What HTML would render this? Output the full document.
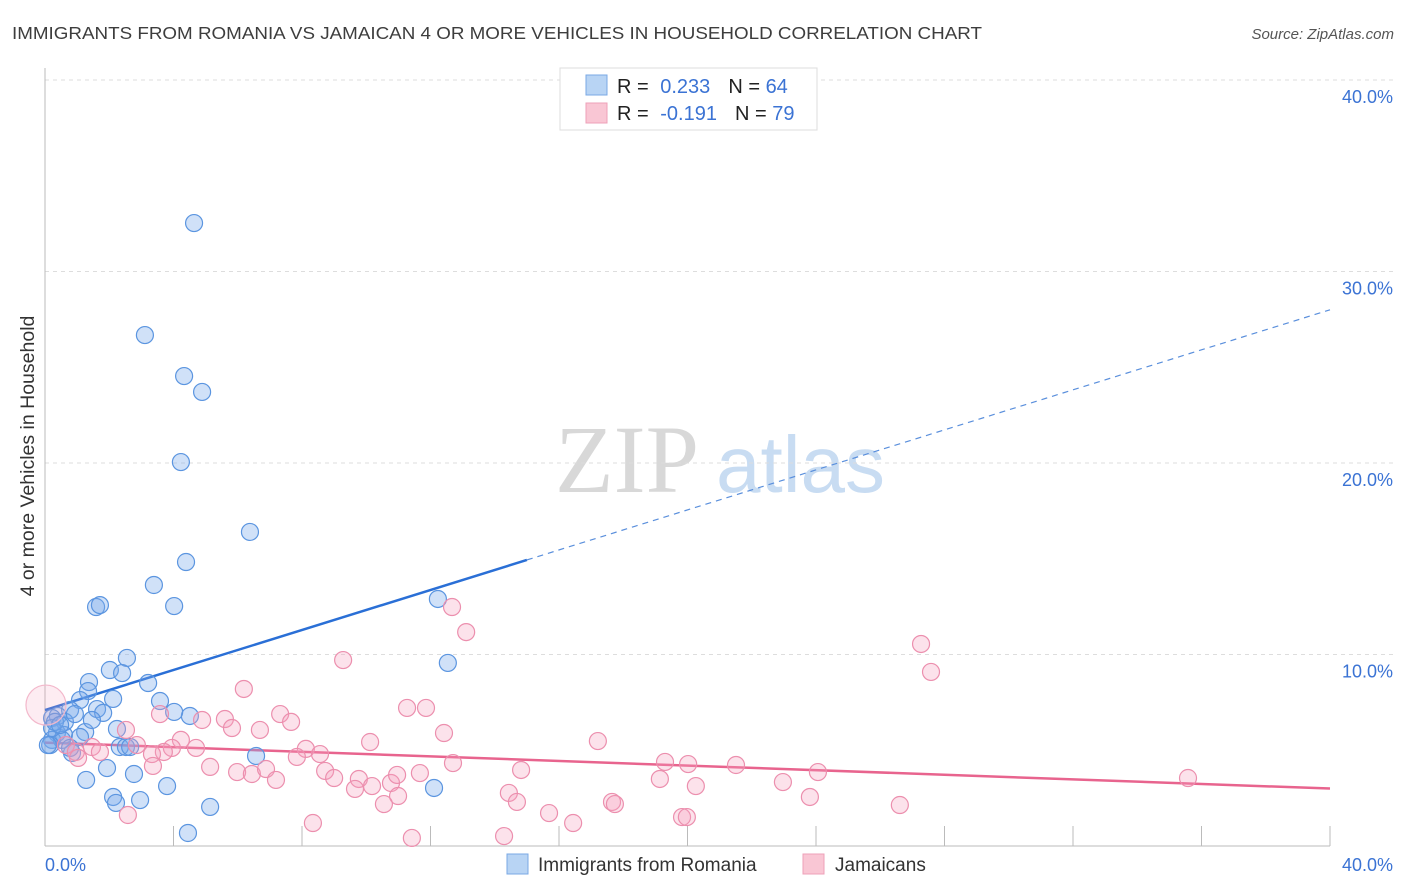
<!DOCTYPE html>
<html><head><meta charset="utf-8">
<style>
body{margin:0;background:#fff;font-family:"Liberation Sans",sans-serif;}
#wrap{position:relative;width:1406px;height:892px;overflow:hidden;}
</style></head>
<body><div id="wrap">
<svg id="chart" width="1406" height="892" xmlns="http://www.w3.org/2000/svg">
<text x="12" y="39" font-size="17.5" fill="#3d3d3d" textLength="970" lengthAdjust="spacingAndGlyphs">IMMIGRANTS FROM ROMANIA VS JAMAICAN 4 OR MORE VEHICLES IN HOUSEHOLD CORRELATION CHART</text>
<text x="1394" y="39" font-size="15" fill="#555" font-style="italic" text-anchor="end">Source: ZipAtlas.com</text>
<text transform="translate(34,456) rotate(-90)" font-size="19.5" fill="#333" text-anchor="middle">4 or more Vehicles in Household</text>
<g>
<text x="555" y="492" font-size="96" font-family="Liberation Serif,serif" fill="#d8d8d8">ZIP</text>
<text x="716" y="492" font-size="80" fill="#c8dcf2">atlas</text>
</g>
<g id="grid"></g><g id="axes"></g><g id="trend"></g><g id="pts"></g>
<g>
<rect x="560" y="68" width="257" height="62" fill="#fff" stroke="#ddd"/>
<rect x="586" y="75" width="21" height="20" fill="#b8d4f4" stroke="#7aa8e4"/>
<rect x="586" y="103" width="21" height="20" fill="#f9c6d4" stroke="#eea0b8"/>
<text x="617" y="93" font-size="20" fill="#222">R = <tspan fill="#3b73d4" dx="6">0.233</tspan><tspan dx="18" fill="#222">N = </tspan><tspan fill="#3b73d4">64</tspan></text>
<text x="617" y="120" font-size="20" fill="#222">R = <tspan fill="#3b73d4" dx="6">-0.191</tspan><tspan dx="18" fill="#222">N = </tspan><tspan fill="#3b73d4">79</tspan></text>
</g>
<g>
<rect x="507" y="854" width="21" height="20" fill="#b8d4f4" stroke="#7aa8e4"/>
<text x="538" y="871" font-size="19" fill="#333">Immigrants from Romania</text>
<rect x="803" y="854" width="21" height="20" fill="#f9c6d4" stroke="#eea0b8"/>
<text x="835" y="871" font-size="19" fill="#333">Jamaicans</text>
</g>
</svg>
</div>
<script>
const yTicks=[10,20,30,40];
const yTickLabels=["10.0%","20.0%","30.0%","40.0%"];
const xTickLabels=["0.0%","40.0%"];
const blueX=[4.64,3.11,4.33,4.89,4.23,6.38,4.39,3.39,1.59,1.71,4.02,12.23,12.54,2.55,2.02,2.40,3.21,1.37,1.34,2.12,3.58,1.09,1.62,1.81,4.51,4.02,0.78,0.40,0.22,0.62,0.93,0.37,1.25,2.24,0.22,0.59,1.09,0.53,2.33,2.52,2.65,6.57,0.84,0.16,1.93,2.77,1.28,3.80,12.11,2.12,2.21,2.96,5.14,4.45,0.22,0.31,0.47,1.46,0.09,0.78];
const blueY=[32.53,26.68,24.54,23.71,20.05,16.40,14.83,13.63,12.48,12.58,12.53,12.90,9.56,9.82,9.19,9.03,8.51,8.56,8.09,7.68,7.57,7.62,7.15,6.95,6.79,7.00,7.10,6.79,6.68,6.48,6.89,5.90,5.95,6.11,5.54,5.80,5.69,5.54,5.17,5.17,5.17,4.70,4.86,5.27,4.07,3.76,3.45,3.13,3.03,2.56,2.25,2.40,2.04,0.68,6.16,6.48,6.32,6.58,5.27,5.12];
const pinkX=[0.03,6.19,9.28,12.67,13.11,27.27,27.58,11.27,11.86,7.32,7.66,3.58,4.89,5.60,5.82,6.69,2.52,12.42,17.21,10.12,8.12,8.56,7.84,4.70,4.23,3.95,3.70,3.33,1.46,1.71,0.65,0.96,2.86,1.03,5.14,3.36,5.98,6.44,8.72,6.88,7.19,9.00,9.77,10.77,11.67,12.70,14.82,19.30,20.02,21.51,24.06,19.14,20.26,22.97,23.81,14.44,14.69,15.69,16.44,17.65,17.74,19.83,19.98,26.61,35.58,2.58,8.34,11.42,14.29,10.99,10.55,9.65,10.18,10.96];
const pinkY=[7.36,8.20,9.71,12.48,11.17,10.55,9.09,7.21,7.21,6.89,6.48,6.89,6.58,6.63,6.16,6.06,6.06,5.90,5.48,5.43,5.07,4.80,4.65,5.12,5.54,5.12,4.91,4.80,5.17,4.91,5.27,4.91,5.27,4.60,4.13,4.18,3.86,3.76,3.92,4.02,3.45,3.55,3.50,3.29,3.81,4.33,3.97,4.39,4.28,4.23,3.86,3.50,3.13,3.34,2.56,2.77,2.30,1.72,1.20,2.30,2.19,1.51,1.51,2.14,3.55,1.62,1.20,0.42,0.52,2.61,2.19,2.98,3.13,3.71];
const blueTrend=[7.1,28.0];
const blueSolidEnd=15.0;
const pinkTrend=[5.4,3.0];

const NS="http://www.w3.org/2000/svg";
const X=v=>45+v*32.125;
const Y=v=>846-v*19.15;
function mk(tag,attrs,parent){const e=document.createElementNS(NS,tag);for(const k in attrs)e.setAttribute(k,attrs[k]);parent.appendChild(e);return e;}
const grid=document.getElementById('grid'),axes=document.getElementById('axes'),trend=document.getElementById('trend'),pts=document.getElementById('pts');
yTicks.forEach((t,i)=>{
  const l=mk('line',{x1:45,x2:1394,y1:Y(t),y2:Y(t),stroke:'#ddd','stroke-dasharray':'4,4'},grid);
  
  
  const tx=mk('text',{x:1393,y:Y(t)+23,'font-size':18,fill:'#3b73d4','text-anchor':'end'},axes);
  tx.textContent=yTickLabels[i];
  
  
});
const ya=mk('line',{x1:45,x2:45,y1:68,y2:846,stroke:'#bbb'},axes);


const xa=mk('line',{x1:45,x2:1330,y1:846,y2:846,stroke:'#bbb'},axes);


for(let i=1;i<=10;i++){
  const tk=mk('line',{x1:X(i*4),x2:X(i*4),y1:846,y2:826,stroke:'#bbb'},axes);
  
  
}
const xl0=mk('text',{x:45,y:871,'font-size':18,fill:'#3b73d4'},axes);
xl0.textContent=xTickLabels[0];


const xl1=mk('text',{x:1393,y:871,'font-size':18,fill:'#3b73d4','text-anchor':'end'},axes);
xl1.textContent=xTickLabels[1];


const by=x=>blueTrend[0]+(blueTrend[1]-blueTrend[0])*x/40;
const bs=mk('line',{x1:X(0),y1:Y(by(0)),x2:X(blueSolidEnd),y2:Y(by(blueSolidEnd)),stroke:'#2a6fd6','stroke-width':2.5},trend);


const bd=mk('line',{x1:X(blueSolidEnd),y1:Y(by(blueSolidEnd)),x2:X(40),y2:Y(by(40)),stroke:'#5a8fdc','stroke-width':1.2,'stroke-dasharray':'6,5'},trend);


blueX.forEach((x,i)=>{
  const c=mk('circle',{cx:X(x),cy:Y(blueY[i]),r:8.5,fill:'rgba(120,170,235,0.35)',stroke:'#5b95e0','stroke-width':1.2},pts);
  
  
});
pinkX.forEach((x,i)=>{
  const c=mk('circle',{cx:X(x),cy:Y(pinkY[i]),r:i===0?20:8.5,fill:i===0?'rgba(245,160,190,0.2)':'rgba(245,160,190,0.3)',stroke:i===0?'#f3b8cb':'#ec8fae','stroke-width':1.2},pts);
  
  
});
const pl=mk('line',{x1:X(0),y1:Y(pinkTrend[0]),x2:X(40),y2:Y(pinkTrend[1]),stroke:'#e8648e','stroke-width':2.5},trend);


</script>
</body></html>
